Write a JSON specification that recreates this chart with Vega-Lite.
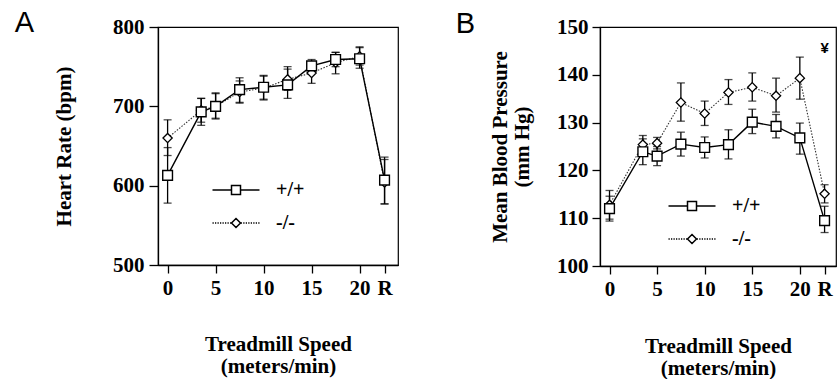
{
  "$schema": "https://vega.github.io/schema/vega-lite/v6.json",
  "padding": {"left": 14, "top": 8, "right": 0, "bottom": 0},
  "spacing": 46,
  "align": "none",
  "datasets": {
    "hr": [
      {"speed": 0, "genotype": "-/-", "mean": 660, "low": 638, "high": 683},
      {"speed": 3.5, "genotype": "-/-", "mean": 695, "low": 680, "high": 710},
      {"speed": 5, "genotype": "-/-", "mean": 700, "low": 685, "high": 716},
      {"speed": 7.5, "genotype": "-/-", "mean": 718, "low": 705, "high": 732},
      {"speed": 10, "genotype": "-/-", "mean": 723, "low": 708, "high": 738},
      {"speed": 12.5, "genotype": "-/-", "mean": 734, "low": 720, "high": 747},
      {"speed": 15, "genotype": "-/-", "mean": 742, "low": 729, "high": 755},
      {"speed": 17.5, "genotype": "-/-", "mean": 755, "low": 741, "high": 768},
      {"speed": 20, "genotype": "-/-", "mean": 763, "low": 752, "high": 774},
      {"speed": 22.6, "genotype": "-/-", "mean": 604, "low": 577, "high": 633},
      {"speed": 0, "genotype": "+/+", "mean": 613, "low": 578, "high": 648},
      {"speed": 3.5, "genotype": "+/+", "mean": 693, "low": 676, "high": 710},
      {"speed": 5, "genotype": "+/+", "mean": 700, "low": 684, "high": 717},
      {"speed": 7.5, "genotype": "+/+", "mean": 721, "low": 704, "high": 736},
      {"speed": 10, "genotype": "+/+", "mean": 724, "low": 709, "high": 739},
      {"speed": 12.5, "genotype": "+/+", "mean": 727, "low": 710, "high": 750},
      {"speed": 15, "genotype": "+/+", "mean": 751, "low": 743, "high": 759},
      {"speed": 17.5, "genotype": "+/+", "mean": 759, "low": 750, "high": 768},
      {"speed": 20, "genotype": "+/+", "mean": 760, "low": 748, "high": 775},
      {"speed": 22.6, "genotype": "+/+", "mean": 607, "low": 577, "high": 636}
    ],
    "mbp": [
      {"speed": 0, "genotype": "-/-", "mean": 112.8, "low": 109.8, "high": 115.8},
      {"speed": 3.5, "genotype": "-/-", "mean": 125.4, "low": 123.5, "high": 127.3},
      {"speed": 5, "genotype": "-/-", "mean": 125.7, "low": 124.5, "high": 126.9},
      {"speed": 7.5, "genotype": "-/-", "mean": 134.2, "low": 130.3, "high": 138.3},
      {"speed": 10, "genotype": "-/-", "mean": 131.9, "low": 129.4, "high": 134.5},
      {"speed": 12.5, "genotype": "-/-", "mean": 136.3, "low": 133.8, "high": 139},
      {"speed": 15, "genotype": "-/-", "mean": 137.4, "low": 134.5, "high": 140.4},
      {"speed": 17.5, "genotype": "-/-", "mean": 135.6, "low": 132.2, "high": 139.3},
      {"speed": 20, "genotype": "-/-", "mean": 139.3, "low": 134.9, "high": 143.7},
      {"speed": 22.6, "genotype": "-/-", "mean": 115.1, "low": 113.2, "high": 117},
      {"speed": 0, "genotype": "+/+", "mean": 112, "low": 109.4, "high": 114.6},
      {"speed": 3.5, "genotype": "+/+", "mean": 123.9, "low": 121.2, "high": 126.6},
      {"speed": 5, "genotype": "+/+", "mean": 123, "low": 121, "high": 125},
      {"speed": 7.5, "genotype": "+/+", "mean": 125.5, "low": 123, "high": 128},
      {"speed": 10, "genotype": "+/+", "mean": 124.8, "low": 122.6, "high": 127},
      {"speed": 12.5, "genotype": "+/+", "mean": 125.4, "low": 122.4, "high": 128.5},
      {"speed": 15, "genotype": "+/+", "mean": 130.1, "low": 127.7, "high": 132.8},
      {"speed": 17.5, "genotype": "+/+", "mean": 129.2, "low": 126.8, "high": 131.7},
      {"speed": 20, "genotype": "+/+", "mean": 126.8, "low": 123.4, "high": 129.9},
      {"speed": 22.6, "genotype": "+/+", "mean": 109.5, "low": 107, "high": 112.5}
    ],
    "notes": [
      {"speed": 22.6, "value": 145.6, "text": "¥"}
    ]
  },
  "hconcat": [
    {
      "width": 240,
      "height": 238,
      "title": {"text": "A", "orient": "left", "anchor": "end", "angle": 0, "align": "right", "baseline": "top", "frame": "bounds", "font": "Liberation Sans", "fontSize": 29, "fontWeight": "normal", "color": "black", "offset": 0, "dy": -7},
      "data": {"name": "hr"},
      "encoding": {
        "x": {"field": "speed", "type": "quantitative", "scale": {"domain": [-1, 24], "nice": false, "zero": false},
          "axis": {"values": [0, 5, 10, 15, 20, 22.6], "labelExpr": "datum.value > 21 ? 'R' : datum.label", "title": ["Treadmill Speed", "(meters/min)"], "titlePadding": 35, "titleLineHeight": 22}}
      },
      "layer": [
        {"mark": {"type": "errorbar", "ticks": {"size": 8, "thickness": 1.3, "color": "black"}, "rule": {"strokeWidth": 1.3, "color": "black"}},
          "encoding": {"y": {"field": "low", "type": "quantitative", "scale": {"domain": [500, 800], "nice": false, "zero": false}, "axis": {"values": [500, 600, 700, 800], "title": "Heart Rate (bpm)", "titlePadding": 38, "tickSize": 9, "labelPadding": 5}}, "y2": {"field": "high"}}},
        {"transform": [{"filter": "datum.genotype === '-/-'"}], "mark": {"type": "line", "color": "#333", "strokeWidth": 1.1, "strokeDash": [1.5, 1.5]},
          "encoding": {"y": {"field": "mean", "type": "quantitative"}}},
        {"transform": [{"filter": "datum.genotype === '+/+'"}], "mark": {"type": "line", "color": "black", "strokeWidth": 1.4},
          "encoding": {"y": {"field": "mean", "type": "quantitative"}}},
        {"transform": [{"filter": "datum.genotype === '-/-'"}], "mark": {"type": "point", "shape": "diamond", "size": 85, "filled": true, "fill": "white", "stroke": "black", "strokeWidth": 1.3, "opacity": 1},
          "encoding": {"y": {"field": "mean", "type": "quantitative"}}},
        {"transform": [{"filter": "datum.genotype === '+/+'"}], "mark": {"type": "point", "shape": "square", "size": 95, "filled": true, "fill": "white", "stroke": "black", "strokeWidth": 1.4, "opacity": 1},
          "encoding": {"y": {"field": "mean", "type": "quantitative"}}},
        {"mark": {"type": "point", "opacity": 0, "size": 100, "color": "black", "stroke": "black"},
          "encoding": {"y": {"field": "mean", "type": "quantitative"},
            "shape": {"field": "genotype", "type": "nominal",
              "scale": {"domain": ["+/+", "-/-"], "range": ["M-4.7,0H-0.9M0.9,0H4.7M-0.9,-0.9H0.9V0.9H-0.9Z", "M-4.7,0H-4.45M-4.2,0H-3.95M-3.7,0H-3.45M-3.2,0H-2.95M-2.7,0H-2.45M-2.2,0H-1.95M-1.7,0H-1.45M-1.2,0H-0.95M0.95,0H1.2M1.45,0H1.7M1.95,0H2.2M2.45,0H2.7M2.95,0H3.2M3.45,0H3.7M3.95,0H4.2M4.45,0H4.7M0,-0.9L0.9,0L0,0.9L-0.9,0Z"]},
              "legend": {"title": null, "orient": "none", "legendX": 68, "legendY": 153, "symbolSize": 100, "symbolStrokeColor": "black", "symbolFillColor": "white", "labelOffset": 30, "rowPadding": 13, "labelFontWeight": "bold", "labelFont": "Liberation Serif", "labelFontSize": 20,
                "encode": {"symbols": {"update": {"opacity": {"value": 1}, "fill": {"value": "white"}, "stroke": {"value": "black"}, "strokeWidth": {"value": 1.3}}}}}}}}
      ]
    },
    {
      "width": 236,
      "height": 239,
      "title": {"text": "B", "orient": "left", "anchor": "end", "angle": 0, "align": "right", "baseline": "top", "frame": "bounds", "font": "Liberation Sans", "fontSize": 29, "fontWeight": "normal", "color": "black", "offset": -5, "dy": -6},
      "data": {"name": "mbp"},
      "encoding": {
        "x": {"field": "speed", "type": "quantitative", "scale": {"domain": [-1, 23.8], "nice": false, "zero": false},
          "axis": {"values": [0, 5, 10, 15, 20, 22.6], "labelExpr": "datum.value > 21 ? 'R' : datum.label", "title": ["Treadmill Speed", "(meters/min)"], "titlePadding": 36, "titleLineHeight": 22}}
      },
      "layer": [
        {"mark": {"type": "errorbar", "ticks": {"size": 8, "thickness": 1.3, "color": "black"}, "rule": {"strokeWidth": 1.3, "color": "black"}},
          "encoding": {"y": {"field": "low", "type": "quantitative", "scale": {"domain": [100, 150], "nice": false, "zero": false}, "axis": {"values": [100, 110, 120, 130, 140, 150], "title": ["Mean Blood Pressure", "(mm Hg)"], "titlePadding": 24, "titleLineHeight": 22, "tickSize": 8, "labelPadding": 4}}, "y2": {"field": "high"}}},
        {"transform": [{"filter": "datum.genotype === '-/-'"}], "mark": {"type": "line", "color": "#333", "strokeWidth": 1.1, "strokeDash": [1.5, 1.5]},
          "encoding": {"y": {"field": "mean", "type": "quantitative"}}},
        {"transform": [{"filter": "datum.genotype === '+/+'"}], "mark": {"type": "line", "color": "black", "strokeWidth": 1.4},
          "encoding": {"y": {"field": "mean", "type": "quantitative"}}},
        {"transform": [{"filter": "datum.genotype === '-/-'"}], "mark": {"type": "point", "shape": "diamond", "size": 85, "filled": true, "fill": "white", "stroke": "black", "strokeWidth": 1.3, "opacity": 1},
          "encoding": {"y": {"field": "mean", "type": "quantitative"}}},
        {"transform": [{"filter": "datum.genotype === '+/+'"}], "mark": {"type": "point", "shape": "square", "size": 95, "filled": true, "fill": "white", "stroke": "black", "strokeWidth": 1.4, "opacity": 1},
          "encoding": {"y": {"field": "mean", "type": "quantitative"}}},
        {"mark": {"type": "point", "opacity": 0, "size": 100, "color": "black", "stroke": "black"},
          "encoding": {"y": {"field": "mean", "type": "quantitative"},
            "shape": {"field": "genotype", "type": "nominal",
              "scale": {"domain": ["+/+", "-/-"], "range": ["M-4.7,0H-0.9M0.9,0H4.7M-0.9,-0.9H0.9V0.9H-0.9Z", "M-4.7,0H-4.45M-4.2,0H-3.95M-3.7,0H-3.45M-3.2,0H-2.95M-2.7,0H-2.45M-2.2,0H-1.95M-1.7,0H-1.45M-1.2,0H-0.95M0.95,0H1.2M1.45,0H1.7M1.95,0H2.2M2.45,0H2.7M2.95,0H3.2M3.45,0H3.7M3.95,0H4.2M4.45,0H4.7M0,-0.9L0.9,0L0,0.9L-0.9,0Z"]},
              "legend": {"title": null, "orient": "none", "legendX": 82, "legendY": 169, "symbolSize": 100, "symbolStrokeColor": "black", "symbolFillColor": "white", "labelOffset": 30, "rowPadding": 13, "labelFontWeight": "bold", "labelFont": "Liberation Serif", "labelFontSize": 20,
                "encode": {"symbols": {"update": {"opacity": {"value": 1}, "fill": {"value": "white"}, "stroke": {"value": "black"}, "strokeWidth": {"value": 1.3}}}}}}}},
        {"data": {"name": "notes"}, "mark": {"type": "text", "font": "Liberation Sans", "fontWeight": "bold", "fontSize": 15, "color": "black"},
          "encoding": {"y": {"field": "value", "type": "quantitative"}, "text": {"field": "text"}}}
      ],
      "resolve": {"scale": {"shape": "independent"}}
    }
  ],
  "resolve": {"scale": {"y": "independent", "x": "independent", "shape": "independent"}, "legend": {"shape": "independent"}},
  "config": {
    "view": {"stroke": "black", "strokeWidth": 1.2},
    "axis": {"domainColor": "black", "domainWidth": 1.3, "tickColor": "black", "tickWidth": 1.3, "tickSize": 8, "labelPadding": 4, "grid": false,
      "labelFont": "Liberation Serif", "labelFontWeight": "bold", "labelFontSize": 21, "labelColor": "black",
      "titleFont": "Liberation Serif", "titleFontWeight": "bold", "titleFontSize": 21, "titleColor": "black"},
    "legend": {"labelFont": "Liberation Serif", "labelFontWeight": "bold", "labelFontSize": 20, "labelColor": "black"}
  }
}
